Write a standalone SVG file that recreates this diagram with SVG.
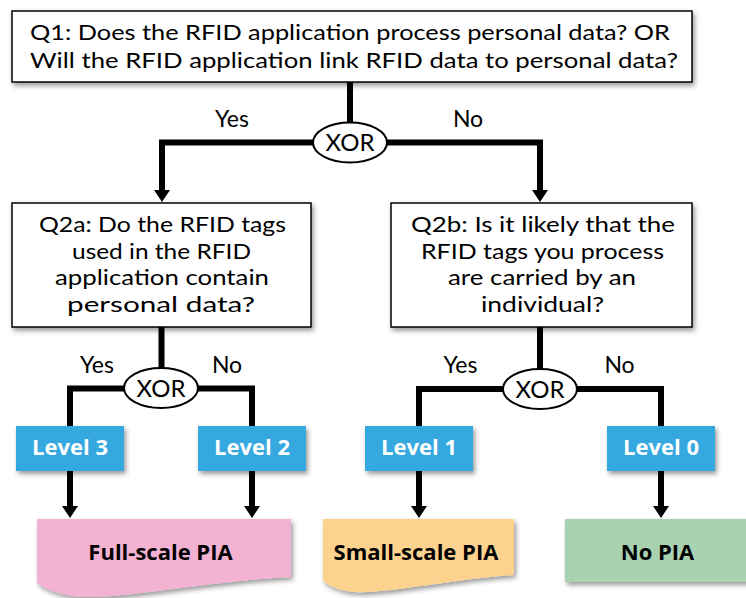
<svg xmlns="http://www.w3.org/2000/svg" width="746" height="598" viewBox="0 0 746 598">
<defs>
<filter id="sh" x="-10%" y="-10%" width="130%" height="140%">
<feDropShadow dx="2" dy="3" stdDeviation="2.5" flood-color="#000" flood-opacity="0.4"/>
</filter>
<marker id="arr" viewBox="0 0 12 16" markerWidth="12" markerHeight="16" markerUnits="userSpaceOnUse" refX="2" refY="8" orient="auto">
<path d="M0,0 L12,8 L0,16 Z" fill="#000"/>
</marker>
<style>
.q{fill:#fff;stroke:#000;stroke-width:1.5;filter:url(#sh)}
.t{font-family:Lato,"Open Sans",sans-serif;font-size:22px;fill:#000;text-anchor:middle}
.lb{font-family:Lato,"Open Sans",sans-serif;font-size:23px;fill:#000;text-anchor:middle}
.xt{font-family:Lato,"Open Sans",sans-serif;font-size:24px;fill:#000;text-anchor:middle}
.x{fill:#fff;stroke:#000;stroke-width:2}
.lv{fill:#36a8e0;filter:url(#sh)}
.lt{font-family:"Open Sans","Noto Sans",sans-serif;font-size:22px;font-weight:bold;fill:#fff;text-anchor:middle}
.pt{font-family:"Open Sans","Noto Sans",sans-serif;font-size:22px;font-weight:bold;fill:#000;text-anchor:middle}
.c{fill:none;stroke:#000;stroke-width:6}
</style>
</defs>

<g id="connectors">
<path class="c" d="M350,82 V142.5"/>
<path class="c" d="M350,142.5 H162 V192" marker-end="url(#arr)"/>
<path class="c" d="M350,142.5 H540 V192" marker-end="url(#arr)"/>
<path class="c" d="M161.5,327 V388 M70,430 V388.5 H252 V430"/>
<path class="c" d="M540,327 V389 M419,430 V389 H661 V430"/>
<path class="c" d="M70,470 V508" marker-end="url(#arr)"/>
<path class="c" d="M252,470 V508" marker-end="url(#arr)"/>
<path class="c" d="M419,470 V508" marker-end="url(#arr)"/>
<path class="c" d="M661,470 V508" marker-end="url(#arr)"/>
</g>

<g id="q1">
<rect class="q" x="12" y="11" width="680" height="71"/>
<text class="t" x="350" y="40" font-size="23" textLength="640" lengthAdjust="spacingAndGlyphs">Q1: Does the RFID application process personal data? OR</text>
<text class="t" x="354" y="68" font-size="23" textLength="648" lengthAdjust="spacingAndGlyphs">Will the RFID application link RFID data to personal data?</text>
</g>

<g id="xor1">
<ellipse class="x" cx="350" cy="142.5" rx="37" ry="20"/>
<text class="xt" x="350" y="151">XOR</text>
</g>
<g id="yes1"><text class="lb" x="232" y="127">Yes</text></g>
<g id="no1"><text class="lb" x="468" y="127">No</text></g>

<g id="q2a">
<rect class="q" x="12" y="203" width="299" height="124"/>
<text class="t" x="162.5" y="232" textLength="247" lengthAdjust="spacingAndGlyphs">Q2a: Do the RFID tags</text>
<text class="t" x="161.5" y="258.5" textLength="179" lengthAdjust="spacingAndGlyphs">used in the RFID</text>
<text class="t" x="162" y="285" textLength="214" lengthAdjust="spacingAndGlyphs">application contain</text>
<text class="t" x="161" y="311.5" textLength="188" lengthAdjust="spacingAndGlyphs">personal data?</text>
</g>

<g id="q2b">
<rect class="q" x="391" y="203" width="301" height="124"/>
<text class="t" x="543" y="232" textLength="264" lengthAdjust="spacingAndGlyphs">Q2b: Is it likely that the</text>
<text class="t" x="542.5" y="258.5" textLength="243" lengthAdjust="spacingAndGlyphs">RFID tags you process</text>
<text class="t" x="542" y="285" textLength="188" lengthAdjust="spacingAndGlyphs">are carried by an</text>
<text class="t" x="542.5" y="311.5" textLength="123" lengthAdjust="spacingAndGlyphs">individual?</text>
</g>

<g id="xor2a">
<ellipse class="x" cx="161" cy="388" rx="37" ry="20"/>
<text class="xt" x="161" y="396.5">XOR</text>
</g>
<g id="yes2a"><text class="lb" x="97" y="373">Yes</text></g>
<g id="no2a"><text class="lb" x="227" y="373">No</text></g>

<g id="xor2b">
<ellipse class="x" cx="540" cy="389" rx="37" ry="20"/>
<text class="xt" x="540" y="397.5">XOR</text>
</g>
<g id="yes2b"><text class="lb" x="460.5" y="373">Yes</text></g>
<g id="no2b"><text class="lb" x="619.5" y="373">No</text></g>

<g id="level3">
<rect class="lv" x="16" y="426" width="108" height="45"/>
<text class="lt" x="70" y="455">Level 3</text>
</g>
<g id="level2">
<rect class="lv" x="198" y="426" width="108" height="45"/>
<text class="lt" x="252" y="455">Level 2</text>
</g>
<g id="level1">
<rect class="lv" x="365" y="426" width="108" height="45"/>
<text class="lt" x="419" y="455">Level 1</text>
</g>
<g id="level0">
<rect class="lv" x="607" y="426" width="108" height="45"/>
<text class="lt" x="661" y="455">Level 0</text>
</g>

<g id="fullscale">
<path d="M37,519 H291 V577 C220,580 130,598 85,597 C62,596 47,590 37,583 Z" fill="#f3b2d2" filter="url(#sh)"/>
<text class="pt" x="160.5" y="560">Full-scale PIA</text>
</g>
<g id="smallscale">
<path d="M323,519 H514 V575 C460,578 385,594 355,592 C340,591 330,586 323,581 Z" fill="#fdd28e" filter="url(#sh)"/>
<text class="pt" x="416" y="560">Small-scale PIA</text>
</g>
<g id="nopia">
<rect x="565" y="519" width="190" height="63" fill="#a8d2b0" filter="url(#sh)"/>
<text class="pt" x="657.5" y="560">No PIA</text>
</g>
</svg>
